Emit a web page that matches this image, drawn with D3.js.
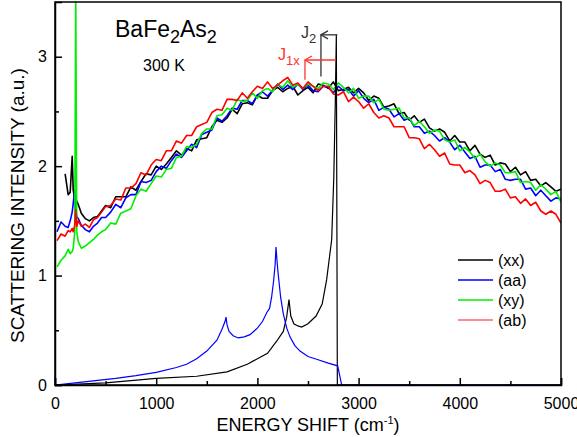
<!DOCTYPE html>
<html lang="en">
<head>
<meta charset="UTF-8">
<title>BaFe2As2 Raman spectra</title>
<script src="https://d3js.org/d3.v7.min.js"></script>
<style>
  body { margin: 0; background: #fff; }
  svg { display: block; font-family: Arial, "Liberation Sans", sans-serif; }
  .axis path, .axis line { stroke: #000; stroke-width: 1.5px; }
  .axis text { font-size: 16px; fill: #000; font-family: Arial, "Liberation Sans", sans-serif; }
</style>
</head>
<body>
<svg width="577" height="437"></svg>
<script>
// measured spectra, energy shift in cm-1
const shift = [20,60,100,130,150,170,180,195,205,215,230,260,300,340,380,420,460,
  500,550,600,650,700,750,800,850,900,950,1000,1050,1100,1150,1200,1250,1300,1350,1400,1450,
  1500,1550,1600,1650,1700,1750,1800,1850,1900,1950,2000,2050,2100,2150,2200,2250,2300,2350,2400,2450,
  2500,2550,2600,2650,2700,2750,2800,2850,2900,2950,3000,3050,3100,3150,3200,3250,3300,3350,3400,3450,
  3500,3550,3600,3650,3700,3750,3800,3850,3900,3950,4000,4050,4100,4150,4200,4250,4300,4350,4400,4450,
  4500,4550,4600,4650,4700,4750,4800,4850,4900,4950,5000];

const xx = [null,null,1.93,1.74,1.76,2.09,1.78,1.70,1.60,1.68,1.65,1.57,1.52,1.50,1.53,1.54,1.59,
  1.64,1.62,1.72,1.72,1.72,1.81,1.78,1.86,1.93,1.92,2.00,1.97,2.02,2.08,2.14,2.10,2.16,2.14,2.24,2.25,
  2.26,2.36,2.42,2.40,2.44,2.52,2.48,2.57,2.58,2.56,2.65,2.62,2.62,2.69,2.72,2.68,2.71,2.73,2.65,2.69,
  2.72,2.67,2.75,2.74,2.71,2.77,2.69,2.70,2.72,2.67,2.71,2.67,2.60,2.64,2.62,2.54,2.55,2.57,2.48,2.49,
  2.42,2.46,2.40,2.43,2.35,2.32,2.34,2.31,2.23,2.28,2.22,2.22,2.14,2.19,2.11,2.08,2.10,2.01,2.03,2.02,
  1.95,1.99,1.92,1.95,1.87,1.88,1.82,1.85,1.81,1.77,1.79];

const aa = [1.40,1.49,1.45,1.44,1.50,1.58,1.66,1.78,1.62,1.54,1.52,1.46,1.42,1.40,1.45,1.48,1.53,
  1.53,1.58,1.65,1.62,1.71,1.74,1.74,1.86,1.85,1.87,1.95,2.00,1.98,2.05,2.11,2.08,2.14,2.20,2.17,2.29,
  2.31,2.33,2.44,2.41,2.46,2.53,2.52,2.60,2.60,2.57,2.65,2.68,2.64,2.69,2.75,2.70,2.74,2.70,2.75,2.70,
  2.74,2.69,2.68,2.73,2.72,2.67,2.73,2.69,2.70,2.64,2.69,2.62,2.58,2.61,2.51,2.54,2.52,2.45,2.48,2.42,
  2.44,2.36,2.36,2.30,2.32,2.28,2.23,2.26,2.22,2.15,2.19,2.13,2.07,2.09,1.99,2.01,2.01,1.95,1.97,1.88,
  1.87,1.88,1.88,1.79,1.80,1.73,1.78,1.73,1.68,1.71,1.70];

const xy = [1.08,1.14,1.18,1.24,1.20,1.22,1.25,1.40,3.60,1.40,1.31,1.25,1.27,1.30,1.33,1.37,1.40,
  1.42,1.48,1.47,1.57,1.59,1.61,1.73,1.79,1.77,1.84,1.91,1.90,1.97,1.98,2.08,2.09,2.18,2.17,2.20,2.30,
  2.34,2.34,2.46,2.47,2.53,2.51,2.61,2.59,2.60,2.67,2.62,2.69,2.71,2.68,2.75,2.72,2.78,2.72,2.75,2.71,
  2.75,2.73,2.71,2.76,2.75,2.70,2.76,2.72,2.67,2.71,2.62,2.64,2.64,2.58,2.61,2.52,2.51,2.52,2.53,2.44,
  2.44,2.37,2.41,2.36,2.30,2.33,2.32,2.24,2.22,2.24,2.14,2.17,2.13,2.07,2.11,2.04,2.00,2.03,2.01,1.94,
  1.94,1.95,1.85,1.86,1.85,1.78,1.83,1.79,1.74,1.77,1.67];

const ab = [1.32,1.38,1.36,1.41,1.40,1.43,1.40,1.46,1.60,1.45,1.50,1.45,1.47,1.44,1.51,1.53,1.58,
  1.63,1.64,1.70,1.69,1.80,1.80,1.84,1.94,1.92,2.01,2.06,2.05,2.14,2.14,2.23,2.21,2.28,2.28,2.36,2.38,
  2.40,2.49,2.52,2.51,2.61,2.61,2.60,2.67,2.62,2.68,2.73,2.71,2.77,2.71,2.74,2.78,2.81,2.74,2.76,2.71,
  2.77,2.73,2.69,2.73,2.73,2.66,2.65,2.68,2.59,2.63,2.59,2.53,2.57,2.49,2.44,2.46,2.44,2.36,2.36,2.36,
  2.26,2.26,2.25,2.16,2.20,2.15,2.09,2.12,2.02,2.01,2.01,1.94,1.96,1.92,1.84,1.87,1.85,1.77,1.77,1.79,
  1.71,1.72,1.66,1.70,1.64,1.67,1.59,1.56,1.59,1.56,1.48];

// calculated two-magnon spectra
const calcShiftXX = [0,500,1000,1400,1700,1900,2100,2190,2256,2289,2312,2330,2360,2400,2437,2500,2580,2640,2684,2734,2755,2770,2780,2790,5000];
const calcXX = [0,0.02,0.06,0.08,0.12,0.19,0.29,0.40,0.49,0.62,0.78,0.63,0.56,0.54,0.53,0.56,0.63,0.74,0.96,1.33,1.9,2.6,3.2,0,0];

const calcShiftAA = [0,200,400,600,800,1000,1200,1300,1400,1500,1600,1650,1680,1690,1700,1720,1760,1811,1870,1927,2000,2050,2092,2120,2140,2160,2175,2184,2195,2207,2230,2256,2290,2322,2370,2421,2500,2585,2700,2793,2833,5000];
const calcAA = [0,0.02,0.04,0.06,0.085,0.115,0.16,0.19,0.24,0.31,0.41,0.51,0.58,0.62,0.55,0.49,0.45,0.43,0.44,0.46,0.52,0.58,0.66,0.70,0.80,0.95,1.10,1.26,1.12,1.00,0.80,0.65,0.52,0.44,0.36,0.31,0.26,0.235,0.20,0.175,0,0];

const xTicks = [0,1000,2000,3000,4000,5000];
const xMinor = [500,1500,2500,3500,4500];
const yTicks = [0,1,2,3];
const yMinor = [0.5,1.5,2.5];

const legendLabels = ["(xx)","(aa)","(xy)","(ab)"];
const legendColors = ["#000000","#0000ff","#00ee00","#ff6666"];

// J2 and J1x markers: [arrow start, arrow end, level, foot]
const j2Mark = [2790, 2628, 3.2, 2.82];
const j1xMark = [2777, 2470, 2.97, 2.79];

const W = 577, H = 437;
const margin = {left: 55, right: 16, top: 2, bottom: 52};
const svg = d3.select("svg");

const x = d3.scaleLinear().domain([0, 5000]).range([margin.left, W - margin.right]);
const y = d3.scaleLinear().domain([0, 3.5]).range([H - margin.bottom, margin.top]);

svg.append("clipPath").attr("id", "plotclip")
  .append("rect")
  .attr("x", margin.left).attr("y", margin.top)
  .attr("width", W - margin.left - margin.right)
  .attr("height", H - margin.top - margin.bottom);

const plot = svg.append("g").attr("clip-path", "url(#plotclip)");

const line = d3.line()
  .defined(d => d[1] != null)
  .x(d => x(d[0]))
  .y(d => y(d[1]));

const spectra = [
  {vals: xx, color: "#000000"},
  {vals: aa, color: "#0000ff"},
  {vals: xy, color: "#00ee00"},
  {vals: ab, color: "#ff0000"}
];

spectra.forEach(s => {
  plot.append("path")
    .datum(shift.map((e, i) => [e, s.vals[i]]))
    .attr("fill", "none")
    .attr("stroke", s.color)
    .attr("stroke-width", 1.6)
    .attr("stroke-linejoin", "round")
    .attr("d", line);
});

plot.append("path")
  .datum(calcShiftXX.map((e, i) => [e, calcXX[i]]))
  .attr("fill", "none").attr("stroke", "#000").attr("stroke-width", 1.2)
  .attr("d", line);

plot.append("path")
  .datum(calcShiftAA.map((e, i) => [e, calcAA[i]]))
  .attr("fill", "none").attr("stroke", "#0000ff").attr("stroke-width", 1.2)
  .attr("d", line);

// axes
svg.append("g").attr("class", "axis")
  .attr("transform", `translate(0,${H - margin.bottom})`)
  .call(d3.axisBottom(x).tickValues(xTicks).tickSize(-7).tickPadding(13).tickFormat(d3.format("d")));
svg.append("g").attr("class", "axis")
  .attr("transform", `translate(0,${H - margin.bottom})`)
  .call(d3.axisBottom(x).tickValues(xMinor).tickSize(-4).tickFormat(""))
  .select(".domain").remove();

svg.append("g").attr("class", "axis")
  .attr("transform", `translate(${margin.left},0)`)
  .call(d3.axisLeft(y).tickValues(yTicks).tickSize(-7).tickPadding(8).tickFormat(d3.format("d")));
svg.append("g").attr("class", "axis")
  .attr("transform", `translate(${margin.left},0)`)
  .call(d3.axisLeft(y).tickValues(yMinor).tickSize(-4).tickFormat(""))
  .select(".domain").remove();

// frame
svg.append("rect")
  .attr("x", margin.left).attr("y", margin.top)
  .attr("width", W - margin.left - margin.right)
  .attr("height", H - margin.top - margin.bottom)
  .attr("fill", "none").attr("stroke", "#000").attr("stroke-width", 1.5);

// axis titles
const xl = svg.append("text")
  .attr("x", (margin.left + W - margin.right) / 2).attr("y", 431)
  .attr("text-anchor", "middle").attr("font-size", 18);
xl.append("tspan").text("ENERGY SHIFT (cm");
xl.append("tspan").text("-1").attr("font-size", 11).attr("dy", -7);
xl.append("tspan").text(")").attr("dy", 7);

svg.append("text")
  .attr("transform", `translate(24,${(margin.top + H - margin.bottom) / 2 + 12}) rotate(-90)`)
  .attr("text-anchor", "middle").attr("font-size", 19)
  .text("SCATTERING INTENSITY (a.u.)");

// compound and temperature
const title = svg.append("text").attr("x", 115).attr("y", 37).attr("font-size", 23);
title.append("tspan").text("BaFe");
title.append("tspan").text("2").attr("font-size", 18).attr("dy", 6);
title.append("tspan").text("As").attr("dy", -6);
title.append("tspan").text("2").attr("font-size", 18).attr("dy", 6);

svg.append("text").attr("x", 143).attr("y", 71).attr("font-size", 16).text("300 K");

// J markers
function marker(m, color, label, sub, lx, ly) {
  const g = svg.append("g").attr("stroke", color).attr("fill", "none").attr("stroke-width", 1.3);
  g.append("line").attr("x1", x(m[0])).attr("x2", x(m[1])).attr("y1", y(m[2])).attr("y2", y(m[2]));
  g.append("line").attr("x1", x(m[1])).attr("x2", x(m[1])).attr("y1", y(m[2])).attr("y2", y(m[3]));
  g.append("path")
    .attr("d", `M${x(m[1]) + 7},${y(m[2]) - 4}L${x(m[1])},${y(m[2])}L${x(m[1]) + 7},${y(m[2]) + 4}`);
  const t = svg.append("text").attr("x", lx).attr("y", ly).attr("font-size", 16).attr("fill", color);
  t.append("tspan").text(label);
  t.append("tspan").text(sub).attr("font-size", 13).attr("dy", 5);
}
marker(j2Mark, "#333", "J", "2", 301, 38);
marker(j1xMark, "#ff3333", "J", "1x", 278, 60);

// legend
const legend = svg.append("g").attr("transform", "translate(458,260)");
legendLabels.forEach((lab, i) => {
  legend.append("line")
    .attr("x1", 0).attr("x2", 35).attr("y1", i * 20).attr("y2", i * 20)
    .attr("stroke", legendColors[i]).attr("stroke-width", 1.5);
  legend.append("text")
    .attr("x", 40).attr("y", i * 20 + 6).attr("font-size", 16)
    .text(lab);
});
</script>
</body>
</html>
